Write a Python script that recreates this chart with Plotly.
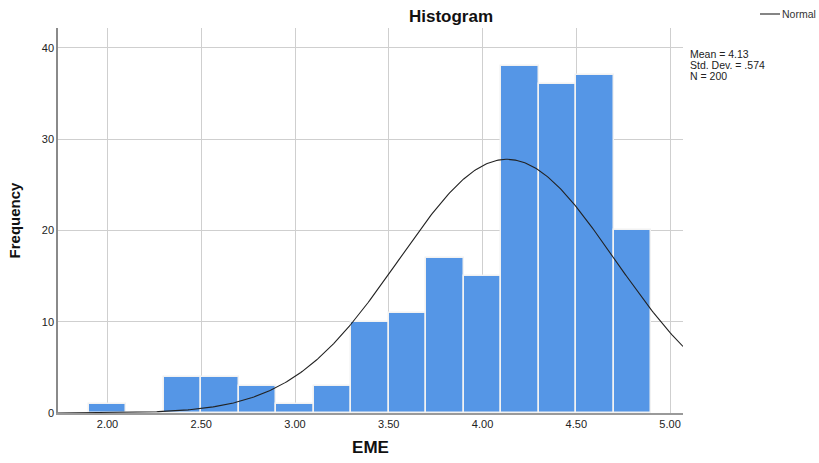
import numpy as np
import plotly.graph_objects as go

# Histogram of EME scores (bin width 0.2)
bin_centers = [2.0, 2.2, 2.4, 2.6, 2.8, 3.0, 3.2, 3.4, 3.6, 3.8, 4.0, 4.2, 4.4, 4.6, 4.8]
frequencies = [1, 0, 4, 4, 3, 1, 3, 10, 11, 17, 15, 38, 36, 37, 20]
bin_width = 0.2

# Summary statistics shown beside the plot
mean_val = 4.13
std_val = 0.574
n_val = 200
stat_lines = [f"Mean = {mean_val:.2f}", "Std. Dev. = .574", f"N = {n_val}"]

x_tick_vals = [2.0, 2.5, 3.0, 3.5, 4.0, 4.5, 5.0]
x_tick_text = ["2.00", "2.50", "3.00", "3.50", "4.00", "4.50", "5.00"]
y_tick_vals = [0, 10, 20, 30, 40]

x_range = [1.736, 5.069]
y_range = [0, 42.19]

# Fitted normal curve scaled to the histogram counts
curve_x = np.linspace(x_range[0], x_range[1], 400)
curve_y = n_val * bin_width / (std_val * np.sqrt(2 * np.pi)) * np.exp(-0.5 * ((curve_x - mean_val) / std_val) ** 2)

font_family = "Liberation Sans, Arial, sans-serif"
curve_color = "#222222"

# plot area in pixels, used to place the side texts
W, H = 819, 463
ML, MR, MT, MB = 58, 136, 28, 50
PW, PH = W - ML - MR, H - MT - MB


def px_x(px):
    return (px - ML) / PW


def px_y(py):
    return 1 - (py - MT) / PH


fig = go.Figure()
fig.add_trace(go.Bar(
    x=bin_centers, y=frequencies, width=bin_width,
    marker=dict(color="#5596E6", line=dict(color="#F2F2F2", width=1.5)),
    showlegend=False, hoverinfo="x+y",
))
fig.add_trace(go.Scatter(
    x=curve_x, y=curve_y, mode="lines", name="Normal",
    line=dict(color=curve_color, width=1.1), showlegend=False,
))

fig.update_layout(
    width=W, height=H,
    margin=dict(l=ML, r=MR, t=MT, b=MB, autoexpand=False),
    paper_bgcolor="white", plot_bgcolor="white",
    font=dict(family=font_family, size=11, color="#222222"),
    bargap=0,
    title=dict(text="<b>Histogram</b>", x=(451 / W), xanchor="center", y=1 - 16 / H, yanchor="middle",
               font=dict(size=17, color="#111111")),
    xaxis=dict(
        range=x_range, tickvals=x_tick_vals, ticktext=x_tick_text,
        showgrid=True, gridcolor="#CFCFCF", gridwidth=1.2,
        showline=True, linecolor="#9A9A9A", linewidth=1.5,
        zeroline=False, ticks="", ticklen=0,
        tickfont=dict(size=11, color="#222222"),
        title=dict(text="<b>EME</b>", font=dict(size=17, color="#111111"), standoff=12),
    ),
    yaxis=dict(
        range=y_range, tickvals=y_tick_vals,
        showgrid=True, gridcolor="#CFCFCF", gridwidth=1.2,
        showline=True, linecolor="#8A8A8A", linewidth=1.5,
        zeroline=False, ticks="", ticklen=0,
        tickfont=dict(size=11, color="#222222"),
        title=dict(text="<b>Frequency</b>", font=dict(size=15, color="#111111"), standoff=18),
    ),
)

# legend key for the normal curve
fig.add_shape(type="line", xref="paper", yref="paper",
              x0=px_x(760), x1=px_x(780), y0=px_y(14), y1=px_y(14),
              line=dict(color=curve_color, width=1.1))
fig.add_annotation(xref="paper", yref="paper", x=px_x(781), y=px_y(14),
                   xanchor="left", yanchor="middle", text="Normal", showarrow=False,
                   font=dict(size=10.5, color="#333333"), borderpad=0)

# statistics block
for i, line in enumerate(stat_lines):
    fig.add_annotation(xref="paper", yref="paper", x=px_x(689), y=px_y(54 + 11 * i),
                       xanchor="left", yanchor="middle", text=line, showarrow=False,
                       font=dict(size=10.5, color="#222222"), borderpad=0)

fig.write_html("out.html")
